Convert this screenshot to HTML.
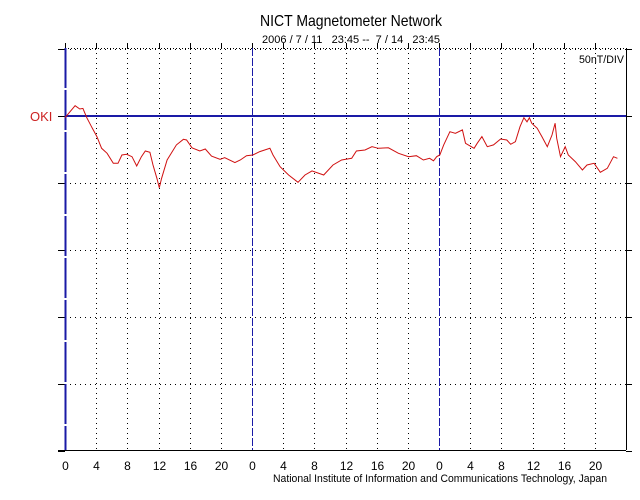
<!DOCTYPE html>
<html><head><meta charset="utf-8"><style>
html,body{margin:0;padding:0;background:#fff;}
svg{display:block;font-family:"Liberation Sans",sans-serif;}
</style></head><body>
<svg id="chart" width="640" height="500" viewBox="0 0 640 500" xmlns="http://www.w3.org/2000/svg">
<text x="351" y="26" font-size="16" text-anchor="middle" textLength="182" lengthAdjust="spacingAndGlyphs">NICT Magnetometer Network</text>
<text x="351" y="43" font-size="11" text-anchor="middle" textLength="178" lengthAdjust="spacingAndGlyphs" xml:space="preserve">2006 / 7 / 11   23:45 --  7 / 14   23:45</text>
<text x="624" y="63" font-size="11" text-anchor="end" textLength="45" lengthAdjust="spacingAndGlyphs">50nT/DIV</text>
<text x="30" y="121" font-size="13" fill="#cc2222">OKI</text>
<text x="273" y="482" font-size="11" textLength="334" lengthAdjust="spacingAndGlyphs">National Institute of Information and Communications Technology, Japan</text>
<g id="grid"></g>
<g id="axes"></g>
<g id="trace"></g>
</svg>
<script>
const hours = [0,1.3,1.9,2.3,2.8,3.4,4.1,4.7,5.4,6.2,6.8,7.3,7.9,8.6,9.2,9.8,10.3,10.9,11.3,11.8,12.1,12.4,13.1,14.3,15.2,15.6,16.3,17.3,18.0,18.8,19.9,20.5,21.8,22.5,23.3,24.1,25.0,26.3,26.7,27.6,28.7,29.9,30.8,31.7,33.2,34.4,35.5,36.8,37.4,38.5,39.4,40.2,41.5,42.8,44.1,45.1,46.0,46.8,47.3,47.7,48.1,48.6,49.4,50.1,51.0,51.4,52.5,52.9,53.5,54.2,55.0,55.9,56.7,57.2,57.8,58.4,58.9,59.3,59.6,59.9,60.6,61.2,61.9,62.5,62.9,63.1,63.6,64.2,64.6,65.5,66.4,67.0,67.9,68.7,69.6,70.4,70.9];
const okiNT = [-1.3,7.7,5.2,5.7,-1.3,-8.0,-15.4,-24.1,-27.8,-35.3,-35.3,-29.1,-28.6,-30.4,-37.3,-30.4,-26.1,-27.1,-36.6,-46.5,-53.5,-46.5,-32.8,-21.6,-17.4,-17.9,-23.7,-26.1,-24.6,-29.9,-32.3,-31.1,-34.8,-32.8,-29.6,-29.1,-26.6,-24.1,-29.1,-37.8,-44.0,-49.5,-44.0,-41.0,-44.0,-36.6,-32.8,-31.6,-26.1,-25.4,-22.9,-24.1,-23.7,-27.8,-30.4,-29.6,-32.8,-31.6,-33.4,-30.4,-29.1,-21.6,-11.7,-12.9,-10.4,-20.4,-24.1,-20.4,-15.4,-22.9,-21.6,-17.2,-17.9,-21.1,-19.2,-8.0,-1.3,-4.3,-1.3,-5.4,-9.2,-15.4,-22.9,-14.2,-5.4,-16.6,-30.4,-22.9,-29.1,-34.1,-40.3,-36.6,-35.3,-42.0,-39.0,-30.4,-31.6];
const xTickLabels = ["0","4","8","12","16","20","0","4","8","12","16","20","0","4","8","12","16","20"];
const yDivs = [50,0,-50,-100,-150,-200,-250];

const X0=65,X1=626,Y0=48,Y1=450,BASE=116,PXNT=67/50;
function xs(h){return X0+(X1-X0)*h/72;}
function ys(v){return BASE-v*PXNT;}
const NS="http://www.w3.org/2000/svg";
function mk(tag,attrs,parent){const e=document.createElementNS(NS,tag);for(const k in attrs)e.setAttribute(k,attrs[k]);parent.appendChild(e);return e;}
const grid=document.getElementById('grid'),axes=document.getElementById('axes'),trace=document.getElementById('trace');

for(let i=0;i<xTickLabels.length;i++){
  const h=i*4,x=Math.round(xs(h))+0.5;
  if(i%6!==0){
    const l=mk('line',{x1:x,y1:Y0,x2:x,y2:Y1,stroke:'#000','stroke-width':1,'stroke-dasharray':'1,4'},grid);
    
    
  }
  const t=mk('line',{x1:x,y1:Y0-5,x2:x,y2:Y0,stroke:'#000'},axes);
  
  
  const lb=mk('text',{x:x,y:470,'font-size':12,'text-anchor':'middle'},axes);
  lb.textContent=xTickLabels[i];
  
  
}
yDivs.forEach(v=>{
  const y=Math.round(ys(v))+0.5;
  if(v!==0 && y<Y1-1 && y>Y0+1){
    const l=mk('line',{x1:X0,y1:y,x2:X1,y2:y,stroke:'#000','stroke-dasharray':'1,4'},grid);
    
    
  }
  const t1=mk('line',{x1:X0-7,y1:y,x2:X0,y2:y,stroke:'#000'},axes);
  
  
  const t2=mk('line',{x1:X1,y1:y,x2:X1+6,y2:y,stroke:'#000'},axes);
  
  
});
let f=mk('line',{x1:X0-7,y1:Y1+0.5,x2:X1,y2:Y1+0.5,stroke:'#000'},axes);


f=mk('line',{x1:X0,y1:Y0+0.5,x2:X1,y2:Y0+0.5,stroke:'#000','stroke-dasharray':'1,2'},axes);


f=mk('line',{x1:X1+0.5,y1:Y0,x2:X1+0.5,y2:Y1,stroke:'#000'},axes);


[0,24,48].forEach(h=>{
  const x=Math.round(xs(h))+0.5;
  const d=mk('line',{x1:x,y1:Y0,x2:x,y2:Y1,stroke:'#1a1aa6','stroke-width':h===0?2:1,'stroke-dasharray':h===0?'40,2':'8,2'},axes);
  
  
});
const b=mk('line',{x1:X0,y1:BASE,x2:X1,y2:BASE,stroke:'#1a1aa6','stroke-width':2},axes);


const pts=hours.map((h,i)=>xs(h).toFixed(1)+','+ys(okiNT[i]).toFixed(1)).join(' ');
const p=mk('polyline',{points:pts,fill:'none',stroke:'#d01010','stroke-width':1},trace);


</script>
</body></html>
